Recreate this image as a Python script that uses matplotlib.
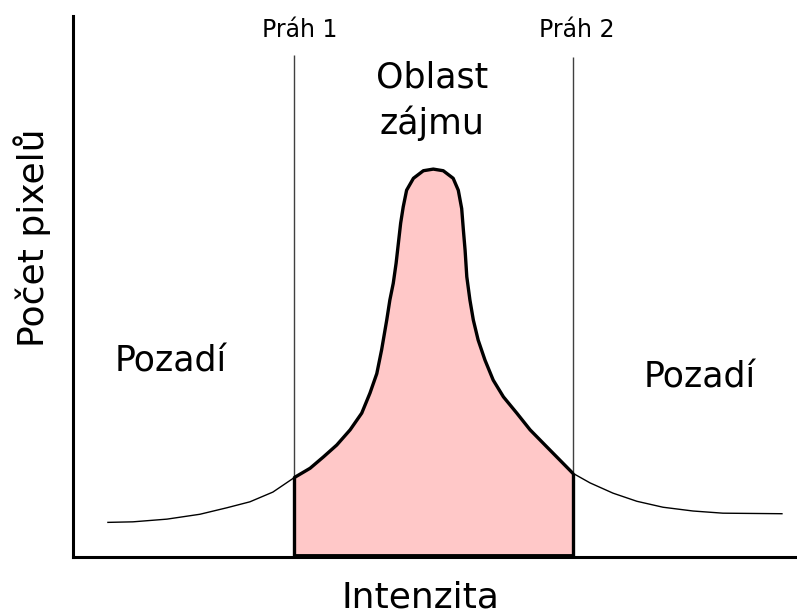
import numpy as np
import matplotlib.pyplot as plt

# histogram curve (intensity, pixel count)
intensity = [12.3, 21.1, 33.1, 44.7, 54.2, 62.3, 70.4,
             78, 83.5, 88.2, 92.9, 97.6, 101.7, 104.6, 107.0, 108.7, 110.5,
             111.6, 112.8, 113.8, 114.6, 115.4, 116.3, 117.5, 119.9, 123.4,
             126.9, 130.4, 133.9, 135.7, 136.9, 137.5, 138.1, 138.7, 139.8,
             141.0, 142.7, 145.1, 148.0, 151.6, 156.3, 161.0, 166.8, 171.5,
             176,
             182.1, 190.2, 198.6, 207.8, 218.4, 228.9, 249.7]
counts = [64, 65, 70, 79, 91, 102, 120,
          147, 164, 185, 207, 235, 266, 303, 339, 383, 438,
          475, 506, 543, 580, 617, 647, 678, 700, 714,
          717, 714, 700, 678, 644, 604, 567, 518, 475,
          438, 401, 364, 327, 296, 266, 235, 204, 179,
          155,
          137, 118, 103, 92, 85, 81, 80]

thresholds = [78, 176]
threshold_labels = ["Práh 1", "Práh 2"]

x = np.array(intensity, dtype=float)
y = np.array(counts, dtype=float)

fig = plt.figure(figsize=(7.97, 6.13), dpi=100)
ax = fig.add_axes([73 / 797, 56 / 613, 724 / 797, 541 / 613])
ax.set_xlim(0, 255)
ax.set_ylim(0, 1000)

t1, t2 = thresholds
inside = (x >= t1) & (x <= t2)

# whole curve, thin
ax.plot(x, y, color="black", lw=1.0, zorder=3)

# region of interest
ax.fill_between(x, y, where=inside, color="#ffc8c8", lw=0, zorder=2)
ax.plot(x[inside], y[inside], color="black", lw=2.4, zorder=4,
        solid_capstyle="round", solid_joinstyle="round")
ax.vlines([t1, t2], 0, [y[x == t1][0], y[x == t2][0]], color="black",
          lw=2.4, zorder=4)
ax.hlines(2, t1, t2, color="black", lw=3.5, zorder=4)

# threshold lines
ax.vlines(thresholds, 0, [928, 924], color="#404040", lw=1.0, zorder=1)
for t, lab in zip([80, 177.5], threshold_labels):
    ax.text(t, 961, lab, ha="center", va="baseline", fontsize=17)

ax.text(126.5, 867, "Oblast", ha="center", va="baseline", fontsize=25)
ax.text(126.5, 782, "zájmu", ha="center", va="baseline", fontsize=25)
ax.text(34.3, 342, "Pozadí", ha="center", va="baseline", fontsize=25)
ax.text(220.8, 314, "Pozadí", ha="center", va="baseline", fontsize=25)

ax.text(0.48, -0.093, "Intenzita", transform=ax.transAxes, ha="center",
        va="baseline", fontsize=26)
ax.text(-0.057, 0.591, "Počet pixelů", transform=ax.transAxes, ha="center",
        va="center", rotation=90, fontsize=26)

for s in ["top", "right"]:
    ax.spines[s].set_visible(False)
for s in ["left", "bottom"]:
    ax.spines[s].set_linewidth(2.2)
ax.set_xticks([])
ax.set_yticks([])

fig.savefig("out.png", dpi=100)
